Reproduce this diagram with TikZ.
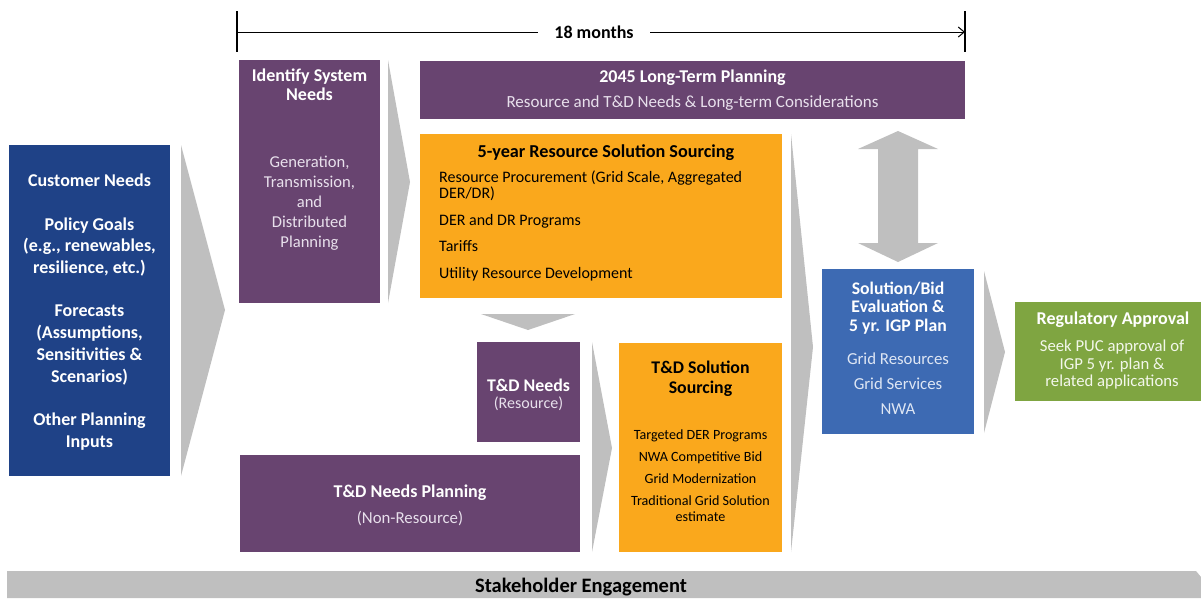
\documentclass[tikz,border=0pt]{standalone}
\usepackage{fontspec}
\setmainfont{Carlito}
\usetikzlibrary{arrows.meta}
\definecolor{dblue}{RGB}{31,66,135}
\definecolor{purp}{RGB}{104,68,112}
\definecolor{orng}{RGB}{250,168,28}
\definecolor{mblue}{RGB}{61,106,179}
\definecolor{grn}{RGB}{127,165,65}
\definecolor{gry}{RGB}{191,191,191}
\definecolor{lav}{RGB}{232,224,236}
\definecolor{lblue}{RGB}{222,230,244}
\definecolor{lgrn}{RGB}{243,247,235}
\tikzset{
  box/.style={draw=none, inner sep=0pt, anchor=north west},
  txt/.style={inner sep=0pt, align=center},
  chev/.style={fill=gry, draw=none},
}
\newcommand{\fs}[2]{\fontsize{#1}{#2}\selectfont}
\begin{document}
\begin{tikzpicture}[x=1pt,y=-1pt]
\useasboundingbox (0,0) rectangle (1201,598);
% timeline
\coordinate (tl) at (237,32);
\coordinate (tr) at (965,32);
\node[txt, font=\fs{18}{20}\bfseries] (months) at (594,32) {18 months};
\draw[line width=1.2pt] (237,11) -- (237,52);
\draw[line width=1.2pt] (965,11) -- (965,52);
\draw[line width=1pt] (tl) -- (538,32);
\draw[line width=1pt, -{Straight Barb[length=6pt,width=10pt]}] (650,32) -- (tr);

% boxes
\node[box, fill=dblue, minimum width=161pt, minimum height=331pt] (cust) at (9,145) {};
\node[box, fill=purp, minimum width=141pt, minimum height=243pt] (isn) at (239,60) {};
\node[box, fill=purp, minimum width=545pt, minimum height=58pt] (ltp) at (420,61) {};
\node[box, fill=orng, minimum width=362pt, minimum height=164pt] (res) at (420,134) {};
\node[box, fill=purp, minimum width=103pt, minimum height=100pt] (tdn) at (477,342) {};
\node[box, fill=purp, minimum width=340pt, minimum height=97pt] (tdp) at (240,455) {};
\node[box, fill=orng, minimum width=163pt, minimum height=209pt] (tds) at (619,343) {};
\node[box, fill=mblue, minimum width=152pt, minimum height=165pt] (sol) at (822,269) {};
\node[box, fill=grn, minimum width=186pt, minimum height=99pt] (reg) at (1015,302) {};

% chevrons
\fill[chev] (181,145) -- (225,310) -- (181,476) -- cycle;
\fill[chev] (388,60) -- (410,182) -- (388,303) -- cycle;
\fill[chev] (592,342) -- (612,448) -- (592,552) -- cycle;
\fill[chev] (791,134) -- (813,347) -- (791,552) -- cycle;
\fill[chev] (984,271) -- (1005,352) -- (984,433) -- cycle;
\fill[chev] (481,314) -- (575,314) -- (528,330) -- cycle;
\fill[chev] (898,131) -- (938,149) -- (918,149) -- (918,243) -- (938,243) -- (898,262)
  -- (858,243) -- (878,243) -- (878,149) -- (858,149) -- cycle;

% stakeholder bar
\fill[gry] (7,571) -- (1196,571) -- (1201,577) -- (1201,598) -- (7,598) -- cycle;
\node[txt, font=\fs{20.5}{22}\bfseries] (stake) at (581,587) {Stakeholder Engagement};

% texts
\node[txt, text=white, font=\fs{18}{21.7}\bfseries] (custt) at (89.5,312)
  {Customer Needs\\[21.7pt]Policy Goals\\(e.g., renewables,\\resilience, etc.)\\[21.7pt]Forecasts\\(Assumptions,\\Sensitivities \&\\Scenarios)\\[21.7pt]Other Planning\\Inputs};

\node[txt, text=white, font=\fs{18}{19.5}\bfseries] (isnt) at (309.5,84.5) {Identify System\\Needs};
\node[txt, text=lav, font=\fs{16.6}{20}] (isnb) at (309.5,203) {Generation,\\Transmission,\\and\\Distributed\\Planning};

\node[txt, text=white, font=\fs{18}{20}\bfseries] (ltpt) at (692.5,78) {2045 Long-Term Planning};
\node[txt, text=lav, font=\fs{17}{19}] (ltpb) at (692.5,103) {Resource and T\&D Needs \& Long-term Considerations};

\node[txt, font=\fs{18.2}{20}\bfseries] (rest) at (606,153) {5-year Resource Solution Sourcing};
\node[txt, align=left, anchor=north west, font=\fs{16}{16}] (resb) at (439,171)
  {Resource Procurement (Grid Scale, Aggregated\\DER/DR)\\[10.5pt]DER and DR Programs\\[10.5pt]Tariffs\\[10.5pt]Utility Resource Development};

\node[txt, text=white, font=\fs{17.8}{19}\bfseries] (tdnt) at (528.5,385) {T\&D Needs};
\node[txt, text=lav, font=\fs{16}{17}] (tdnb) at (528.5,404) {(Resource)};

\node[txt, text=white, font=\fs{18}{19}\bfseries] (tdpt) at (410,493) {T\&D Needs Planning};
\node[txt, text=lav, font=\fs{16.8}{18}] (tdpb) at (410,519) {(Non-Resource)};

\node[txt, font=\fs{17.8}{20}\bfseries] (tdst) at (700.5,379) {T\&D Solution\\Sourcing};
\node[txt, font=\fs{14.1}{16}] (tdsb) at (700.5,476)
  {Targeted DER Programs\\[6pt]NWA Competitive Bid\\[6pt]Grid Modernization\\[6pt]Traditional Grid Solution\\estimate};

\node[txt, text=white, font=\fs{17.7}{18.5}\bfseries] (solt) at (898,308) {Solution/Bid\\Evaluation \&\\5 yr. IGP Plan};
\node[txt, text=lblue, font=\fs{16.8}{25}] (solb) at (898,384) {Grid Resources\\Grid Services\\NWA};

\node[txt, text=white, font=\fs{18}{20}\bfseries] (regt) at (1113,320) {Regulatory Approval};
\node[txt, text=lgrn, font=\fs{16.7}{17.5}] (regb) at (1112,365) {Seek PUC approval of\\IGP 5 yr. plan \&\\related applications};
\end{tikzpicture}
\end{document}
